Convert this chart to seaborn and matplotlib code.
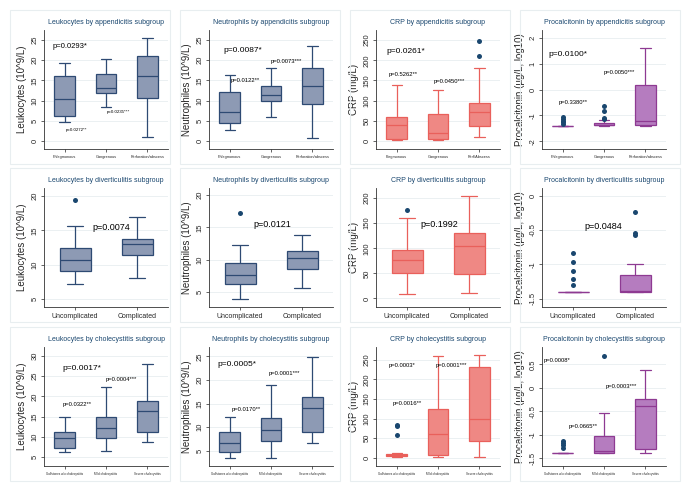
import matplotlib
matplotlib.use("Agg")
import matplotlib.pyplot as plt
from matplotlib.patches import Rectangle
import seaborn as sns
import pandas as pd

sns.set_style("white")
plt.rcParams['font.family'] = ['Liberation Sans', 'DejaVu Sans']

# ---- categories
app_cats = ['Phlegmonous', 'Gangrenous', 'Perforation/abscess']
app_cats_crp = ['Flegmonous', 'Gangrenous', 'Perf/Abscess']
div_cats = ['Uncomplicated', 'Complicated']
chol_cats = ['Gallstones w/o cholecystitis', 'Mild cholecystitis', 'Severe cholecystitis']

# ---- box stats: [low whisker, q1, median, q3, high whisker] per group
leuk_app = [[4.8, 6.2, 10.5, 16.0, 19.2], [8.5, 12.0, 13.2, 16.5, 20.4], [1.0, 10.7, 16.0, 21.0, 25.5]]
neut_app = [[2.6, 4.5, 7.2, 12.1, 16.3], [5.9, 9.9, 11.4, 13.6, 18.0], [0.7, 9.2, 13.6, 18.1, 23.6]]
crp_app = [[3, 6, 40, 60, 139], [3, 4, 20, 67, 127], [10, 37, 71, 94, 182]]
pct_app = [[-1.40, -1.40, -1.40, -1.40, -1.40], [-1.40, -1.39, -1.37, -1.30, -1.19], [-1.40, -1.38, -1.22, 0.19, 1.60]]
leuk_div = [[7.2, 9.1, 10.7, 12.4, 15.7], [8.0, 11.4, 13.0, 13.8, 16.9]]
neut_div = [[4.0, 6.3, 7.6, 9.5, 12.3], [5.7, 8.5, 10.3, 11.3, 13.8]]
crp_div = [[8, 50, 76, 96, 161], [11, 49, 104, 130, 204]]
pct_div = [[-1.40, -1.40, -1.40, -1.40, -1.40], [-1.40, -1.40, -1.39, -1.16, -1.00]]
leuk_chol = [[6.2, 7.3, 9.7, 11.2, 14.9], [6.5, 9.7, 12.2, 14.8, 22.4], [8.7, 11.1, 16.5, 18.8, 28.1]]
neut_chol = [[3.5, 4.8, 6.7, 9.0, 12.1], [3.5, 7.2, 9.4, 11.9, 19.0], [6.7, 8.9, 14.1, 16.4, 24.8]]
crp_chol = [[3, 4, 6, 9, 12], [3, 8, 62, 124, 259], [3, 44, 100, 232, 262]]
pct_chol = [[-1.40, -1.40, -1.40, -1.40, -1.40], [-1.40, -1.40, -1.35, -1.04, -0.54], [-1.40, -1.30, -0.38, -0.24, 0.38]]

# ---- outliers per group
leuk_app_out = [[], [], []]
neut_app_out = [[], [], []]
crp_app_out = [[], [], [211, 248]]
pct_app_out = [[-1.08, -1.14, -1.20, -1.26, -1.32], [-0.63, -0.85, -1.09, -1.15], []]
leuk_div_out = [[19.5], []]
neut_div_out = [[17.2], []]
crp_div_out = [[176], []]
pct_div_out = [[-0.83, -0.96, -1.10, -1.22, -1.30], [-0.24, -0.55, -0.57]]
leuk_chol_out = [[], [], []]
neut_chol_out = [[], [], []]
crp_chol_out = [[58, 80, 84], [], []]
pct_chol_out = [[-1.13, -1.18, -1.23, -1.28], [0.68], []]

# ---- p-value annotations: (x, y, text, size)
leuk_app_p = [(-0.3, 23.4, 'p=0.0293*', 5.5), (0.02, 2.7, 'p=0.0272**', 3.2), (1.03, 7.2, 'p=0.0235***', 3.2)]
neut_app_p = [(-0.15, 22.4, 'p=0.0087*', 6), (0.03, 15.0, 'p=0.0122**', 4.2), (0.98, 19.7, 'p=0.0073***', 4.2)]
crp_app_p = [(-0.25, 222, 'p=0.0261*', 6), (-0.2, 164, 'p=0.5262**', 4.2), (0.9, 148, 'p=0.0450***', 4.2)]
pct_app_p = [(-0.35, 1.36, 'p=0.0100*', 6), (-0.1, -0.51, 'p=0.3380**', 4.2), (1.0, 0.64, 'p=0.0050***', 4.2)]
leuk_div_p = [(0.28, 15.4, 'p=0.0074', 6.5)]
neut_div_p = [(0.22, 15.5, 'p=0.0121', 6.5)]
crp_div_p = [(0.22, 147, 'p=0.1992', 6.5)]
pct_div_p = [(0.18, -0.45, 'p=0.0484', 6.5)]
leuk_chol_p = [(-0.05, 27.0, 'p=0.0017*', 6), (-0.05, 18.0, 'p=0.0322**', 4.2), (0.98, 24.2, 'p=0.0004***', 4.2)]
neut_chol_p = [(-0.3, 23.3, 'p=0.0005*', 6), (0.05, 13.8, 'p=0.0170**', 4.2), (0.95, 21.4, 'p=0.0001***', 4.2)]
crp_chol_p = [(-0.2, 237, 'p=0.0003*', 4.2), (-0.1, 139, 'p=0.0016**', 4.2), (0.95, 237, 'p=0.0001***', 4.2)]
pct_chol_p = [(-0.45, 0.58, 'p=0.0008*', 4.2), (0.15, -0.82, 'p=0.0665**', 4.2), (1.05, 0.02, 'p=0.0003***', 4.2)]

blue_fill, blue_edge = '#8d9ab4', '#2e4a73'
red_fill, red_edge = '#ef8884', '#e9605b'
pur_fill, pur_edge = '#b57cbf', '#8e3a92'
dot_col = '#1a476f'
title_col = '#1a476f'

W, H = 685, 497
fig = plt.figure(figsize=(W / 100, H / 100), dpi=100)

col_left = [44, 209, 376, 542]
row_top = [30, 188, 347]
ax_w, ax_h = 124, 119
frame_x = [10, 180, 350, 520]
frame_y = [10, 168, 327]
frame_w, frame_h = 160, 154


def draw_panel(r, c, title, ylabel, cats, stats, outs, fill, edge, ylim, yticks, xfs, notes):
    fig.add_artist(Rectangle((frame_x[c] / W, 1 - (frame_y[r] + frame_h) / H), frame_w / W, frame_h / H,
                             transform=fig.transFigure, fill=False, ec='#e8eef0', lw=0.8))
    ax = fig.add_axes([col_left[c] / W, 1 - (row_top[r] + ax_h) / H, ax_w / W, ax_h / H])
    df = pd.DataFrame([(g, v) for g, s in zip(cats, stats) for v in s], columns=['group', 'value'])
    sns.boxplot(data=df, x='group', y='value', order=cats, whis=(0, 100), width=0.5,
                color=fill, linecolor=edge, linewidth=0.9, showfliers=False, saturation=1, ax=ax)
    od = pd.DataFrame([(g, v) for g, s in zip(cats, outs) for v in s], columns=['group', 'value'])
    if len(od):
        sns.stripplot(data=od, x='group', y='value', order=cats, jitter=False, color=dot_col,
                      size=3.6, linewidth=0, ax=ax)
    for x, y, s, fs in notes:
        ax.text(x, y, s, fontsize=fs, ha='left', va='center', color='black')
    ax.set_ylim(ylim)
    ax.set_xlim(-0.5, len(cats) - 0.5)
    ax.set_yticks(yticks)
    ax.set_yticklabels([('%g' % t) for t in yticks])
    ax.set_xlabel('')
    ax.set_ylabel(ylabel, fontsize=7)
    ax.yaxis.set_label_coords(-17 / ax_w, 0.5)
    ax.set_title(title, fontsize=5, color=title_col, pad=4)
    ax.yaxis.grid(True, color='#e8eef0', lw=0.6)
    ax.set_axisbelow(True)
    for sp in ['top', 'right']:
        ax.spines[sp].set_visible(False)
    for sp in ['left', 'bottom']:
        ax.spines[sp].set_color('#333333')
        ax.spines[sp].set_linewidth(0.6)
    ax.tick_params(axis='y', labelsize=5.5, labelrotation=90, length=2.5, width=0.5, pad=1.2, left=True)
    ax.tick_params(axis='x', labelsize=xfs, length=2, width=0.5, pad=2, bottom=True)
    for lab in ax.get_yticklabels():
        lab.set_va('center')
    return ax


draw_panel(0, 0, 'Leukocytes by appendicitis subgroup', 'Leukocytes (10^9/L)', app_cats, leuk_app, leuk_app_out,
           blue_fill, blue_edge, (-2, 27.5), [0, 5, 10, 15, 20, 25], 2.8, leuk_app_p)
draw_panel(0, 1, 'Neutrophils by appendicitis subgroup', 'Neutrophiles (10^9/L)', app_cats, neut_app, neut_app_out,
           blue_fill, blue_edge, (-2, 27.5), [0, 5, 10, 15, 20, 25], 2.8, neut_app_p)
draw_panel(0, 2, 'CRP by appendicitis subgroup', 'CRP (mg/L)', app_cats_crp, crp_app, crp_app_out,
           red_fill, red_edge, (-20, 275), [0, 50, 100, 150, 200, 250], 2.8, crp_app_p)
draw_panel(0, 3, 'Procalcitonin by appendicitis subgroup', 'Procalcitonin (µg/L, log10)', app_cats, pct_app, pct_app_out,
           pur_fill, pur_edge, (-2.3, 2.3), [-2, -1, 0, 1, 2], 2.8, pct_app_p)

draw_panel(1, 0, 'Leukocytes by diverticulitis subgroup', 'Leukocytes (10^9/L)', div_cats, leuk_div, leuk_div_out,
           blue_fill, blue_edge, (3.8, 21.2), [5, 10, 15, 20], 5, leuk_div_p)
draw_panel(1, 1, 'Neutrophils by diverticulitis subgroup', 'Neutrophiles (10^9/L)', div_cats, neut_div, neut_div_out,
           blue_fill, blue_edge, (2.7, 21.1), [5, 10, 15, 20], 5, neut_div_p)
draw_panel(1, 2, 'CRP by diverticulitis subgroup', 'CRP (mg/L)', div_cats, crp_div, crp_div_out,
           red_fill, red_edge, (-17, 220), [0, 50, 100, 150, 200], 5, crp_div_p)
draw_panel(1, 3, 'Procalcitonin by diverticulitis subgroup', 'Procalcitonin (µg/L, log10)', div_cats, pct_div, pct_div_out,
           pur_fill, pur_edge, (-1.62, 0.11), [-1.5, -1, -0.5, 0], 5, pct_div_p)

draw_panel(2, 0, 'Leukocytes by cholecystitis subgroup', 'Leukocytes (10^9/L)', chol_cats, leuk_chol, leuk_chol_out,
           blue_fill, blue_edge, (2.8, 32.2), [5, 10, 15, 20, 25, 30], 2.2, leuk_chol_p)
draw_panel(2, 1, 'Neutrophils by cholecystitis subgroup', 'Neutrophiles (10^9/L)', chol_cats, neut_chol, neut_chol_out,
           blue_fill, blue_edge, (1.8, 27), [5, 10, 15, 20, 25], 2.2, neut_chol_p)
draw_panel(2, 2, 'CRP by cholecystitis subgroup', 'CRP (mg/L)', chol_cats, crp_chol, crp_chol_out,
           red_fill, red_edge, (-21, 283), [0, 50, 100, 150, 200, 250], 2.2, crp_chol_p)
draw_panel(2, 3, 'Procalcitonin by cholecystitis subgroup', 'Procalcitonin (µg/L, log10)', chol_cats, pct_chol, pct_chol_out,
           pur_fill, pur_edge, (-1.67, 0.87), [-1.5, -1, -0.5, 0, 0.5], 2.2, pct_chol_p)

fig.savefig('out.png', dpi=100)
